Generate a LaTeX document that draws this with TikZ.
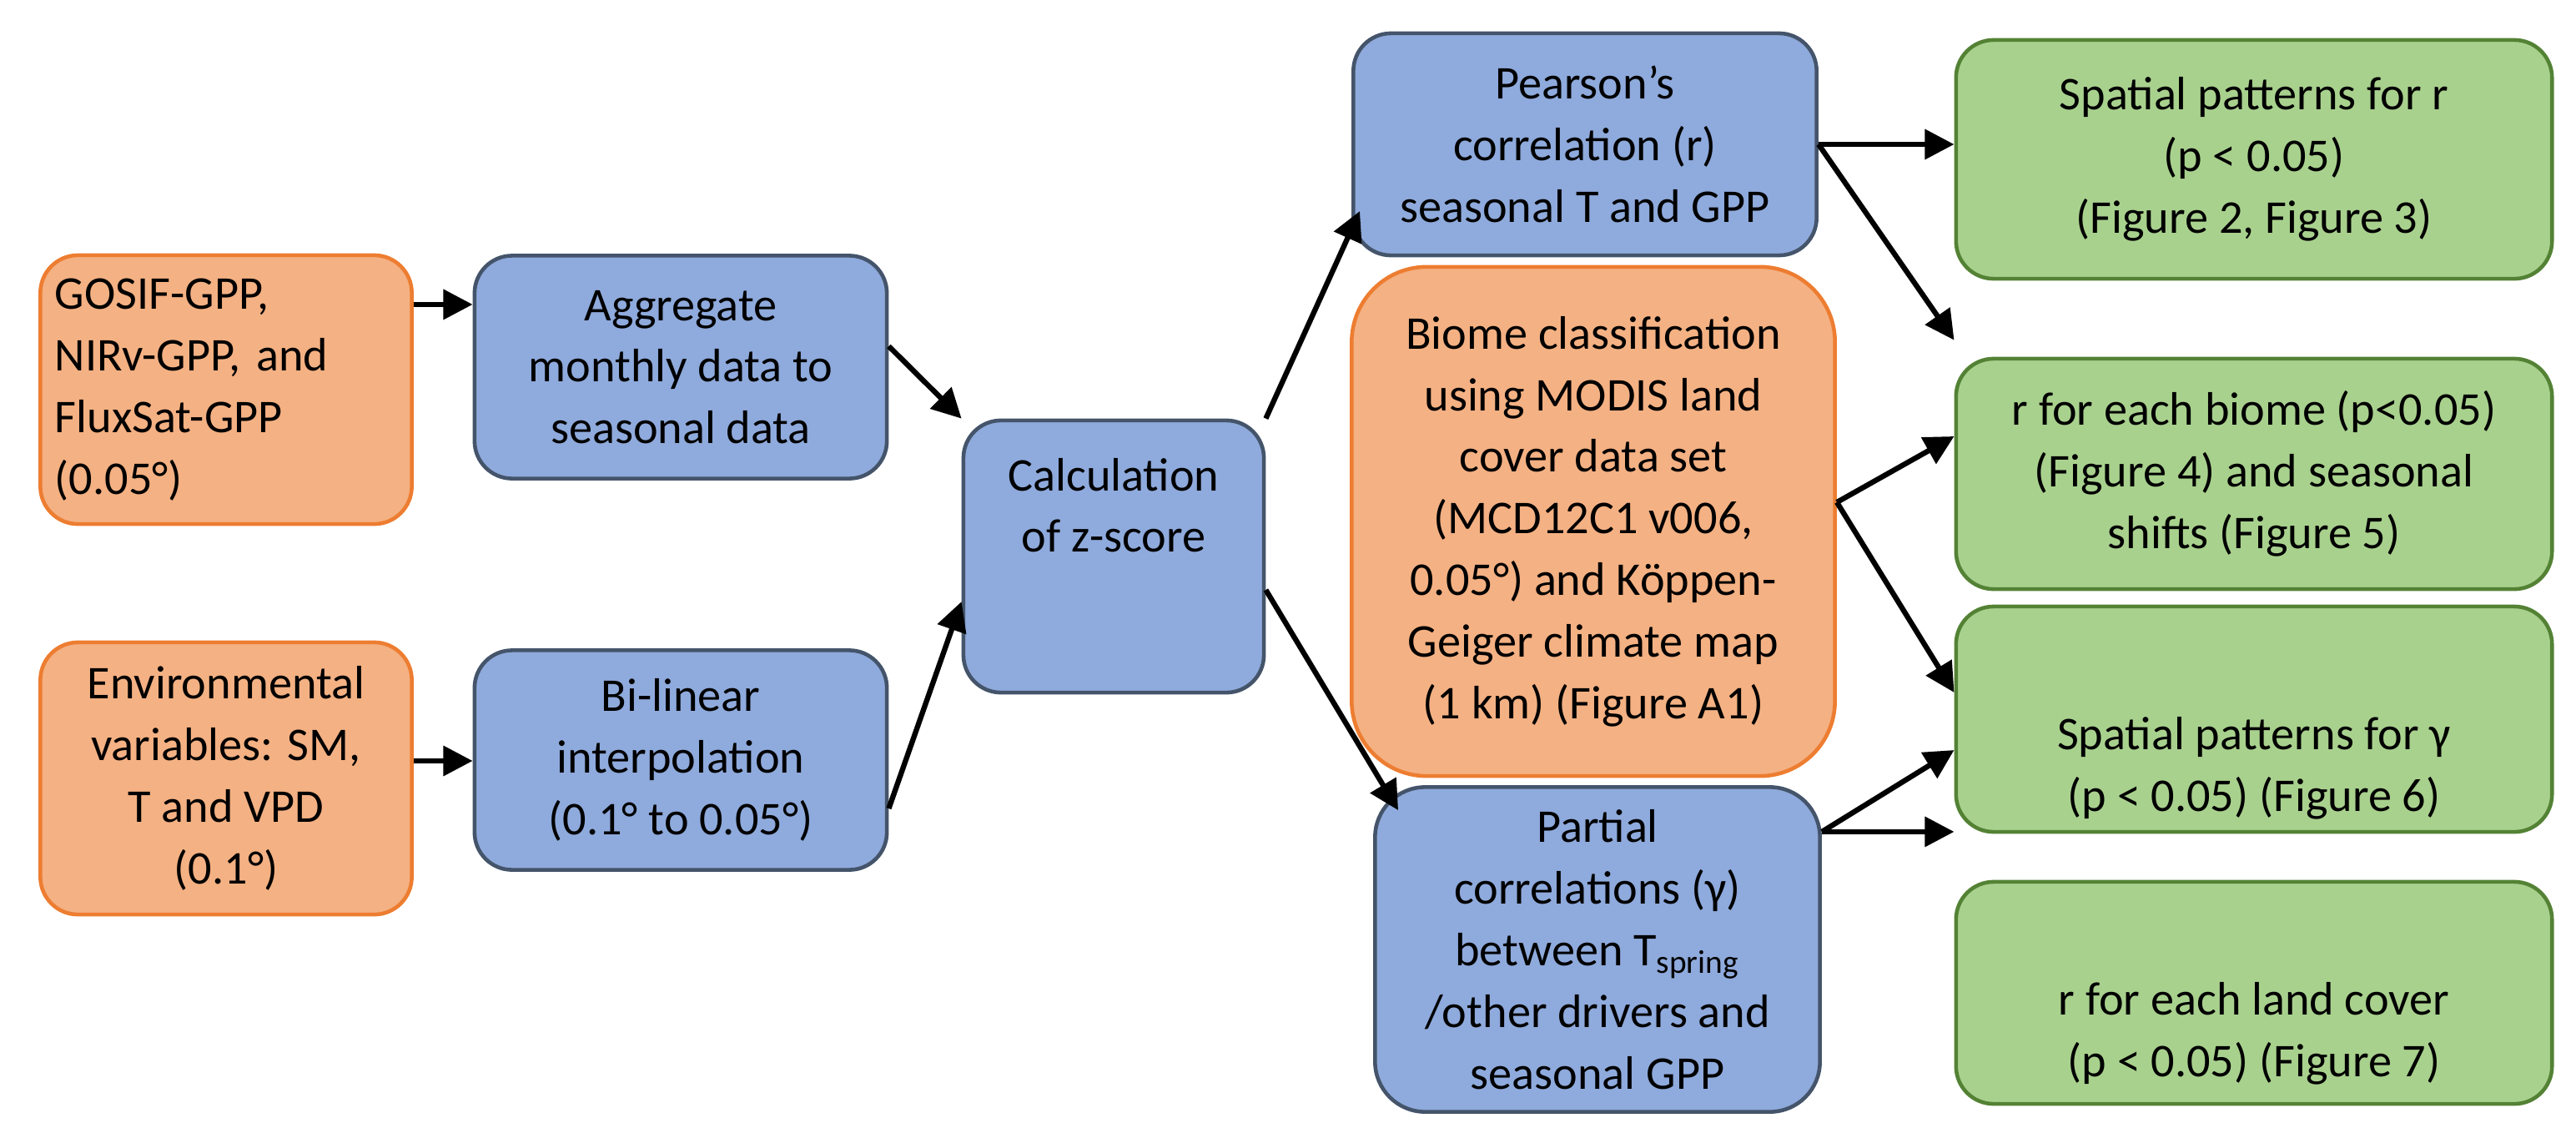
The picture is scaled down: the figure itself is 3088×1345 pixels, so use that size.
\documentclass[tikz,border=0pt]{standalone}
\usepackage{fontspec}
\setmainfont{Carlito}
\usetikzlibrary{arrows.meta}
\definecolor{inorange}{HTML}{F4B183}
\definecolor{inorangeline}{HTML}{ED7D31}
\definecolor{stepblue}{HTML}{8FAADC}
\definecolor{stepblueline}{HTML}{44546A}
\definecolor{outgreen}{HTML}{A9D18E}
\definecolor{outgreenline}{HTML}{548235}

\begin{document}
\begin{tikzpicture}[x=0.01cm,y=-0.01cm,
    box/.style={draw, line width=1.3pt, rounded corners=0.45cm, align=center, inner sep=0pt,
        font=\fontsize{16}{21}\selectfont},
    input/.style={box, fill=inorange, draw=inorangeline},
    process/.style={box, fill=stepblue, draw=stepblueline},
    result/.style={box, fill=outgreen, draw=outgreenline, minimum width=7.14cm},
    flow/.style={line width=1.8pt, -{Triangle[length=10pt,width=10pt]}}]
        \useasboundingbox (0,0) rectangle (3088,1345);

        % inputs
        \node[input, minimum width=4.45cm, minimum height=3.22cm, text width=4.1cm, align=left] (gosif) at (271,467)
            {GOSIF-GPP,\\NIRv-GPP, and\\FluxSat-GPP\\(0.05°)};
        \node[input, minimum width=4.45cm, minimum height=3.26cm] (env) at (271,933)
            {Environmental\\variables: SM,\\T and VPD\\(0.1°)};

        % processing
        \node[process, minimum width=4.94cm, minimum height=2.67cm] (agg) at (816,440)
            {Aggregate\\monthly data to\\seasonal data};
        \node[process, minimum width=4.94cm, minimum height=2.63cm] (bilin) at (816,911)
            {Bi-linear\\interpolation\\(0.1° to 0.05°)};
        \node[process, minimum width=3.6cm, minimum height=3.26cm, text height=3.2cm, text depth=0pt] (zscore) at (1335,667)
            {};
        \node[font=\fontsize{16}{21}\selectfont, align=center, anchor=north] at ([yshift=-0.35cm]zscore.north)
            {Calculation\\of z-score};
        \node[process, minimum width=5.55cm, minimum height=2.66cm] (pearson) at (1900,173)
            {Pearson’s\\correlation (r)\\seasonal T and GPP};
        \node[input, rounded corners=0.9cm, minimum width=5.79cm, minimum height=6.1cm] (biome) at (1910,625)
            {Biome classification\\using MODIS land\\cover data set\\(MCD12C1 v006,\\0.05°) and Köppen-\\Geiger climate map\\(1 km) (Figure A1)};
        \node[process, rounded corners=0.6cm, minimum width=5.33cm, minimum height=3.89cm] (partial) at (1915,1138)
            {Partial\\correlations (γ)\\between T\textsubscript{spring}\\/other drivers and\\seasonal GPP};

        % results
        \node[result, minimum height=2.86cm] (spatr) at (2702,191)
            {Spatial patterns for r\\(p < 0.05)\\(Figure 2, Figure 3)};
        \node[result, minimum height=2.76cm] (biomer) at (2702,568)
            {r for each biome (p<0.05)\\(Figure 4) and seasonal\\shifts (Figure 5)};
        \node[result, minimum height=2.7cm, text height=2.2cm, text depth=0pt] (spatg) at (2702,862)
            {Spatial patterns for γ\\(p < 0.05) (Figure 6)};
        \node[result, minimum height=2.66cm, text height=2.0cm, text depth=0pt] (landr) at (2702,1190)
            {r for each land cover\\(p < 0.05) (Figure 7)};

        \coordinate (pfork) at (pearson.east);
        \coordinate (bfork) at ([yshift=0.23cm]biome.east);
        \coordinate (gfork) at ([yshift=1.41cm]partial.east);

        \draw[flow] ([yshift=1.02cm]gosif.east) -- ([yshift=1.02cm]gosif.east -| agg.west);
        \draw[flow] ([yshift=0.21cm]env.east) -- ([yshift=0.21cm]env.east -| bilin.west);
        \draw[flow] ([yshift=0.25cm]agg.east) -- (zscore.north west);
        \draw[flow] ([yshift=-0.58cm]bilin.east) -- ([yshift=-0.54cm]zscore.west);
        \draw[flow] (zscore.north east) -- ([xshift=0.1cm,yshift=-0.8cm]pearson.west);
        \draw[flow] ([yshift=-0.4cm]zscore.east) -- ([xshift=0.3cm,yshift=-0.3cm]partial.north west);
        \draw[flow] (pfork) -- (pfork -| spatr.west);
        \draw[flow] (pfork) -- ([yshift=0.2cm]biomer.north west);
        \draw[flow] (bfork) -- ([yshift=0.45cm]biomer.west);
        \draw[flow] (bfork) -- ([yshift=0.32cm]spatg.west);
        \draw[flow] (gfork) -- ([yshift=-0.37cm]spatg.west);
        \draw[flow] (gfork) -- (gfork -| landr.west);
\end{tikzpicture}
\end{document}
